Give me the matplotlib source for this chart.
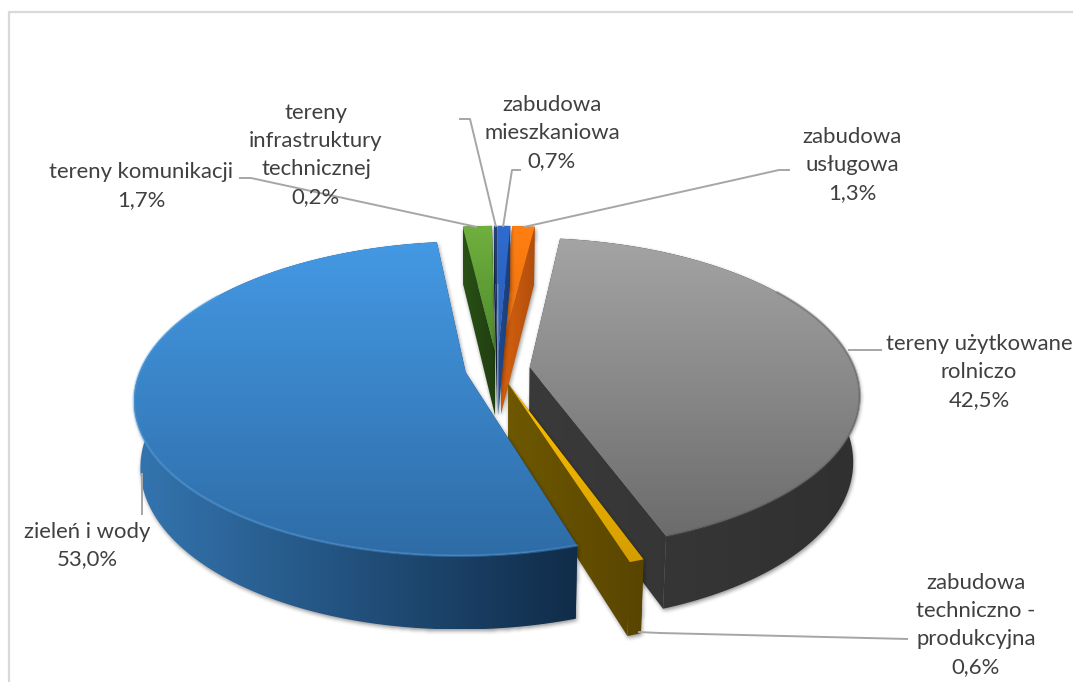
import numpy as np
import matplotlib
matplotlib.use("Agg")
import matplotlib.pyplot as plt
from matplotlib.colors import to_rgb
from matplotlib.patches import Polygon
from matplotlib.path import Path

# ---- data -------------------------------------------------------------
categories = ["zabudowa mieszkaniowa", "zabudowa usługowa", "tereny użytkowane rolniczo",
              "zabudowa techniczno - produkcyjna", "zieleń i wody", "tereny komunikacji",
              "tereny infrastruktury technicznej"]
values = [0.7, 1.3, 42.5, 0.6, 53.0, 1.7, 0.2]
value_labels = ["0,7%", "1,3%", "42,5%", "0,6%", "53,0%", "1,7%", "0,2%"]

# ---- style ------------------------------------------------------------
explode = [0.120, 0.120, 0.100, 0.102, 0.100, 0.120, 0.120]
top_cols = [("#2F6BD0", "#2A5DB5"), ("#FF7F12", "#E96F10"), ("#A4A4A4", "#6C6C6C"),
            ("#FFC000", "#D49E00"), ("#4499E4", "#2E6CA6"), ("#70B03E", "#4E8A2C"),
            ("#24447C", "#1C3562")]
side_cols = [("#1F4A92", "#1A3D7A"), ("#D9620F", "#B04E0C"), ("#3A3A3A", "#303030"),
             ("#6E5800", "#594500"), ("#3475B0", "#102C49"), ("#2A5016", "#203F10"),
             ("#14264A", "#101E3A")]
rim_cols = ["#2F6BD0", "#FF8C2A", "#585858", "#FFC000", "#5AAAEE", "#70B03E", "#24447C"]
draw_order = [5, 6, 1, 0, 2, 3, 4]
CX, CY, A, B, K = 497.5, 369.0, 325.0, 151.7, 0.167
W, H = 1073, 682
TXT = "#404040"
LEAD = "#A6A6A6"

plt.rcParams["font.family"] = ["Lato", "DejaVu Sans"]
fig = plt.figure(figsize=(W / 100, H / 100), dpi=100)
ax = fig.add_axes([0, 0, 1, 1])
ax.set_xlim(0, W)
ax.set_ylim(H, 0)
ax.axis("off")


def project(u, v):
    d = 1 + K * v
    return np.column_stack([CX + A * u / d, CY - B * v / d])


def lower(p):
    p = np.asarray(p, float)
    return np.column_stack([CX + (p[:, 0] - CX) * 0.982,
                            p[:, 1] + 65 + 6.5 * (p[:, 1] - CY) / 140])


def grad_fill(poly, cols, vertical, z):
    a, b = np.array(to_rgb(cols[0])), np.array(to_rgb(cols[1]))
    t = np.linspace(0, 1, 256)[:, None]
    g = (a + (b - a) * t)[:, None, :] if vertical else (a + (b - a) * t)[None, :, :]
    x0, y0 = poly.min(axis=0)
    x1, y1 = poly.max(axis=0)
    im = ax.imshow(g, extent=(x0, x1, y1, y0), origin="upper", aspect="auto",
                   interpolation="bilinear", zorder=z)
    patch = Polygon(poly, closed=True, transform=ax.transData, fc="none", ec="none")
    ax.add_patch(patch)
    im.set_clip_path(patch)
    return im


def blur(m, r):
    kern = np.ones(2 * r + 1) / (2 * r + 1)
    for _ in range(2):
        m = np.apply_along_axis(lambda c: np.convolve(c, kern, mode="same"), 0, m)
        m = np.apply_along_axis(lambda c: np.convolve(c, kern, mode="same"), 1, m)
    return m


def shadow(polys, z):
    pts = np.vstack(polys)
    x0, y0 = np.floor(pts.min(axis=0)).astype(int) - 12
    x1, y1 = np.ceil(pts.max(axis=0)).astype(int) + 14
    xs, ys = np.meshgrid(np.arange(x0, x1) + 0.5, np.arange(y0, y1) + 0.5)
    grid = np.column_stack([xs.ravel(), ys.ravel()])
    mask = np.zeros(xs.shape)
    for q in polys:
        mask = np.maximum(mask, Path(q).contains_points(grid).reshape(xs.shape).astype(float))
    mask = blur(mask, 2)
    rgba = np.zeros(mask.shape + (4,))
    rgba[..., 3] = mask * 0.42
    ax.imshow(rgba, extent=(x0 + 1, x1 + 1, y1 + 2, y0 + 2), origin="upper",
              aspect="auto", interpolation="bilinear", zorder=z)


# ---- slices -----------------------------------------------------------
edges = np.concatenate([[0], np.cumsum(values)]) / sum(values) * 2 * np.pi
z = 2.0
for i in draw_order:
    a0, a1 = edges[i], edges[i + 1]
    mid = (a0 + a1) / 2
    ex, ey = explode[i] * np.sin(mid), explode[i] * np.cos(mid)
    th = np.linspace(a0, a1, max(4, int((a1 - a0) * 60)))
    rim = project(np.sin(th) + ex, np.cos(th) + ey)
    apex = project(np.array([ex]), np.array([ey]))
    top = np.vstack([apex, rim])
    wall_o = np.vstack([rim, lower(rim)[::-1]])
    wall_a = np.vstack([apex, rim[:1], lower(rim[:1]), lower(apex)])
    wall_b = np.vstack([apex, rim[-1:], lower(rim[-1:]), lower(apex)])
    walls = [wall_a, wall_b, wall_o]
    shadow(walls + [top], z)
    z += 0.1
    allw = np.vstack(walls)
    xr0, xr1 = allw[:, 0].min(), allw[:, 0].max()
    c0, c1 = np.array(to_rgb(side_cols[i][0])), np.array(to_rgb(side_cols[i][1]))
    for w in walls:
        f0 = (w[:, 0].min() - xr0) / max(xr1 - xr0, 1)
        f1 = (w[:, 0].max() - xr0) / max(xr1 - xr0, 1)
        grad_fill(w, (c0 + (c1 - c0) * f0, c0 + (c1 - c0) * f1), False, z)
        z += 0.01
    grad_fill(top, top_cols[i], True, z)
    z += 0.01
    if i in (2, 4):
        near = np.cos(th) < 0.55
        ax.plot(rim[near, 0], rim[near, 1], color=rim_cols[i], lw=1.8, alpha=0.35, zorder=z,
                solid_capstyle="round")
    z += 0.1

# ---- frame ------------------------------------------------------------
ax.plot([8.5, 8.5, W + 2], [H + 2, 11.5, 11.5], color="#D9D9D9", lw=1.6, zorder=1)

# ---- leader lines -----------------------------------------------------
leaders = [
    [(239, 178), (251, 178), (477, 227)],
    [(459, 119), (470, 119), (496, 227)],
    [(521, 170), (512, 170), (503, 227)],
    [(790, 170), (779, 170), (524, 227)],
    [(882, 350), (848, 350)],
    [(142, 473), (142, 515)],
    [(908, 639), (660, 633), (638, 632)],
]
for seg in leaders:
    s = np.array(seg)
    ax.plot(s[:, 0], s[:, 1], color=LEAD, lw=1.4, zorder=30, solid_capstyle="butt")

# ---- labels -----------------------------------------------------------
label_lines = {
    0: ("zabudowa\nmieszkaniowa", 552, 133),
    1: ("zabudowa\nusługowa", 852, 165),
    2: ("tereny użytkowane\nrolniczo", 979, 372),
    3: ("zabudowa\ntechniczno -\nprodukcyjna", 976, 625),
    4: ("zieleń i wody", 87, 545.5),
    5: ("tereny komunikacji", 141, 186),
    6: ("tereny\ninfrastruktury\ntechnicznej", 316, 155),
}
for i, (txt, x, y) in label_lines.items():
    full = txt + "\n" + value_labels[i]
    ax.text(x, y, full, ha="center", va="center", fontsize=15.9,
            color=TXT, linespacing=1.5, zorder=40, family=["Lato", "DejaVu Sans"])

fig.savefig("out.png", dpi=100)
